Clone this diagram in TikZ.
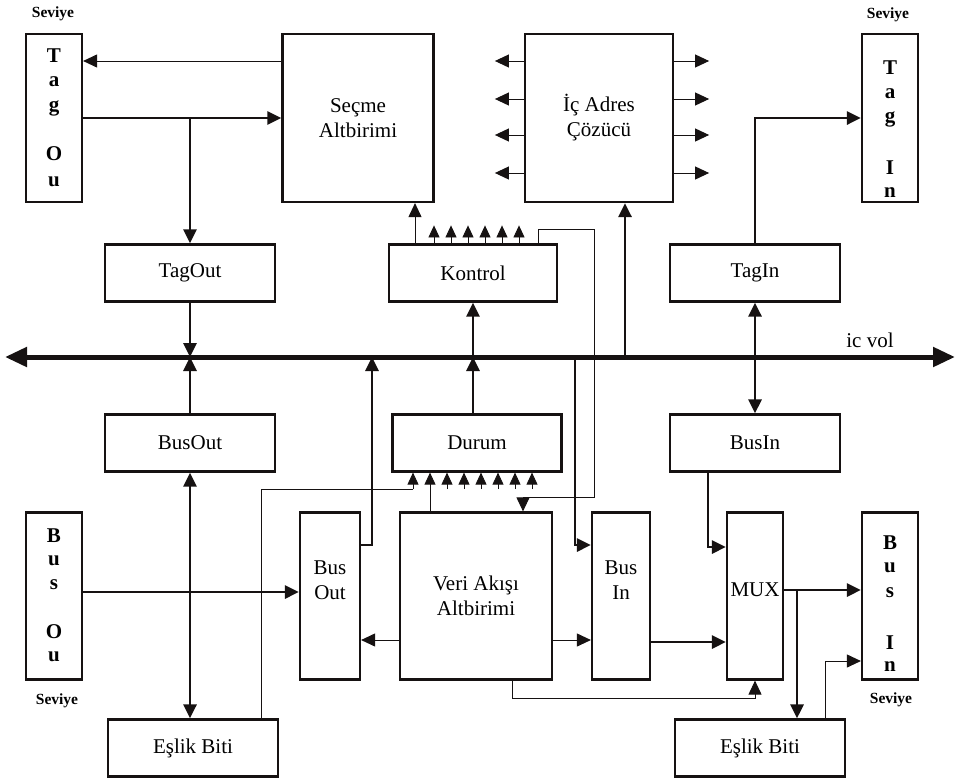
\documentclass[tikz,border=0pt]{standalone}
\usepackage{fontspec}
\setmainfont{Liberation Serif}
\usepackage{xcolor}
\usepackage{tikz}
\usetikzlibrary{arrows.meta,positioning}
\definecolor{Ink}{RGB}{22,18,18}
\tikzset{
  unitbox/.style={draw=Ink,line width=2.2pt,fill=white,inner sep=0pt,align=center,font=\fontsize{21}{25}\selectfont},
  widebox/.style={unitbox,minimum width=170pt,minimum height=57pt},
  tallbox/.style={unitbox,minimum width=58pt,minimum height=167pt},
  levelbox/.style={unitbox,minimum width=56pt,minimum height=168pt},
  bigbox/.style={unitbox,minimum width=151pt,minimum height=168pt},
  boxtext/.style={inner sep=0pt,align=center,font=\fontsize{21}{25}\selectfont},
  letter/.style={inner sep=0pt,font=\bfseries\fontsize{21}{21}\selectfont},
  levelnote/.style={inner sep=0pt,font=\bfseries\fontsize{15.5}{15.5}\selectfont},
  flow/.style={-{Triangle[length=14pt,width=13pt]},line width=2.8pt,draw=Ink},
  bothflow/.style={flow,{Triangle[length=14pt,width=13pt]}-{Triangle[length=14pt,width=13pt]}},
  thinflow/.style={-{Triangle[length=14pt,width=13pt]},line width=1pt,draw=Ink},
  thinline/.style={line width=1pt,draw=Ink},
  pinflow/.style={-{Triangle[length=12pt,width=11pt]},line width=0.8pt,draw=Ink},
  mainbus/.style={{Triangle[length=22pt,width=19pt]}-{Triangle[length=22pt,width=19pt]},line width=5pt,draw=Ink}
}

\begin{document}
\begin{tikzpicture}[x=1pt,y=-1pt]
\useasboundingbox (0,0) rectangle (957,779);

% top row
\node[levelbox] (tagou) at (54,118) {};
\node[bigbox] (secme) at (358,118) {Seçme\\Altbirimi};
\node[bigbox,minimum width=148pt] (icadres) at (599,118) {İç Adres\\Çözücü};
\node[levelbox] (tagin) at (890,118) {};
\node[levelnote] (sev1) at (53,14) {Seviye};
\node[levelnote] (sev2) at (888,15) {Seviye};
\foreach \ch/\yy [count=\n] in {T/56,a/82,g/108,O/154,u/182}
  \node[letter] (tagou\n) at (54,\yy) {\ch};
\foreach \ch/\yy [count=\n] in {T/68,a/94,g/119,I/168,n/193}
  \node[letter] (tagin\n) at (890,\yy) {\ch};

% tag / control row
\node[widebox] (tagout) at (190,273) {TagOut};
\node[widebox,minimum width=168pt] (kontrol) at (473,273) {Kontrol};
\node[widebox] (taginb) at (755,273) {TagIn};

% internal bus
\coordinate (busL) at (5,357);
\coordinate (busR) at (955,357);
\draw[mainbus] (busL) -- (busR);
\node[boxtext] (icyol) at (870,340) {ic vol};

% bus row
\node[widebox] (busout) at (190,443) {BusOut};
\node[widebox,minimum width=169pt] (durum) at (477,443) {Durum};
\node[widebox] (busin) at (755,443) {BusIn};

% data path row
\node[levelbox,minimum height=167pt] (busou) at (54,596) {};
\node[tallbox,minimum width=60pt] (busout2) at (330,596) {};
\node[tallbox,minimum width=152pt] (veri) at (476,596) {Veri Akışı\\Altbirimi};
\node[tallbox] (busin2) at (621,596) {};
\node[tallbox,minimum width=56pt] (mux) at (755,596) {};
\node[levelbox,minimum height=167pt] (busin3) at (890,596) {};
\node[boxtext] (busout2t) at (330,580) {Bus\\Out};
\node[boxtext] (busin2t) at (621,580) {Bus\\In};
\node[boxtext] (muxt) at (755,590) {MUX};
\node[levelnote] (sev3) at (57,701) {Seviye};
\node[levelnote] (sev4) at (891,700) {Seviye};
\foreach \ch/\yy [count=\n] in {B/536,u/561,s/585,O/632,u/657}
  \node[letter] (busou\n) at (54,\yy) {\ch};
\foreach \ch/\yy [count=\n] in {B/543,u/568,s/593,I/643,n/667}
  \node[letter] (busin3\n) at (890,\yy) {\ch};

% parity
\node[widebox] (eslik1) at (193,748) {Eşlik Biti};
\node[widebox] (eslik2) at (760,748) {Eşlik Biti};

% top connections
\draw[thinflow] (secme.west |- 0,61) -- (tagou.east |- 0,61);
\draw[flow] (tagou.east) -- (secme.west);
\draw[flow] (tagout.north |- tagou.east) -- (tagout.north);
\foreach \yy in {61,99,135,173} {
  \draw[thinflow] (icadres.west |- 0,\yy) -- ++(-29,0);
  \draw[thinflow] (icadres.east |- 0,\yy) -- ++(35,0);
}
\coordinate (ks) at (415,0);
\draw[thinflow] (kontrol.north -| ks) -- (secme.south -| ks);
\foreach \i in {0,...,5} {
  \coordinate (k\i) at ({434+17*\i},0);
  \draw[pinflow] (kontrol.north -| k\i) -- ++(0,-18);
}
\coordinate (kv) at (594,229);
\draw[thinflow] (kontrol.north -| 538,0) |- (kv) |- (523,497) -- (veri.north -| 523,0);
\draw[flow] (taginb.north) |- (tagin.west);

% to and from the bus
\draw[flow] (tagout.south) -- (tagout.south |- busL);
\draw[flow] (busout.north) -- (busout.north |- busL);
\draw[flow] (kontrol.south |- busL) -- (kontrol.south);
\draw[flow] (durum.north -| kontrol.south) -- (kontrol.south |- busL);
\draw[flow] (busL -| 625,0) -- (icadres.south -| 625,0);
\draw[bothflow] (taginb.south) -- (busin.north);

% durum inputs
\foreach \i in {0,...,7} {
  \coordinate (d\i) at ({413+17*\i},489);
  \draw[pinflow] (d\i) -- (d\i |- durum.south);
}
\draw[thinline] (eslik1.north -| 261,0) |- (d0);
\draw[thinline] (veri.north -| d1) -- (d1);

% data path
\draw[bothflow] (busout.south) -- (busout.south |- eslik1.north);
\draw[flow] (busou.east |- 0,592) -- (busout2.west |- 0,592);
\draw[flow] (busout2.east |- 0,545) -| (busL -| 372,0);
\draw[thinflow] (veri.west |- 0,640) -- (busout2.east |- 0,640);
\draw[thinflow] (veri.east |- 0,640) -- (busin2.west |- 0,640);
\draw[flow] (busL -| 575,0) |- (busin2.west |- 0,545);
\draw[flow] (busin.south -| 708,0) |- (mux.west |- 0,547);
\draw[flow] (busin2.east |- 0,642) -- (mux.west |- 0,642);
\draw[thinflow] (veri.south -| 512,0) -- ++(0,18) -| (mux.south);
\draw[flow] (mux.east |- 0,590) -- (busin3.west |- 0,590);
\coordinate (mj) at (797,590);
\draw[flow] (mj) -- (mj |- eslik2.north);
\draw[thinflow] (eslik2.north -| 825,0) |- (busin3.west |- 0,661);
\end{tikzpicture}
\end{document}
